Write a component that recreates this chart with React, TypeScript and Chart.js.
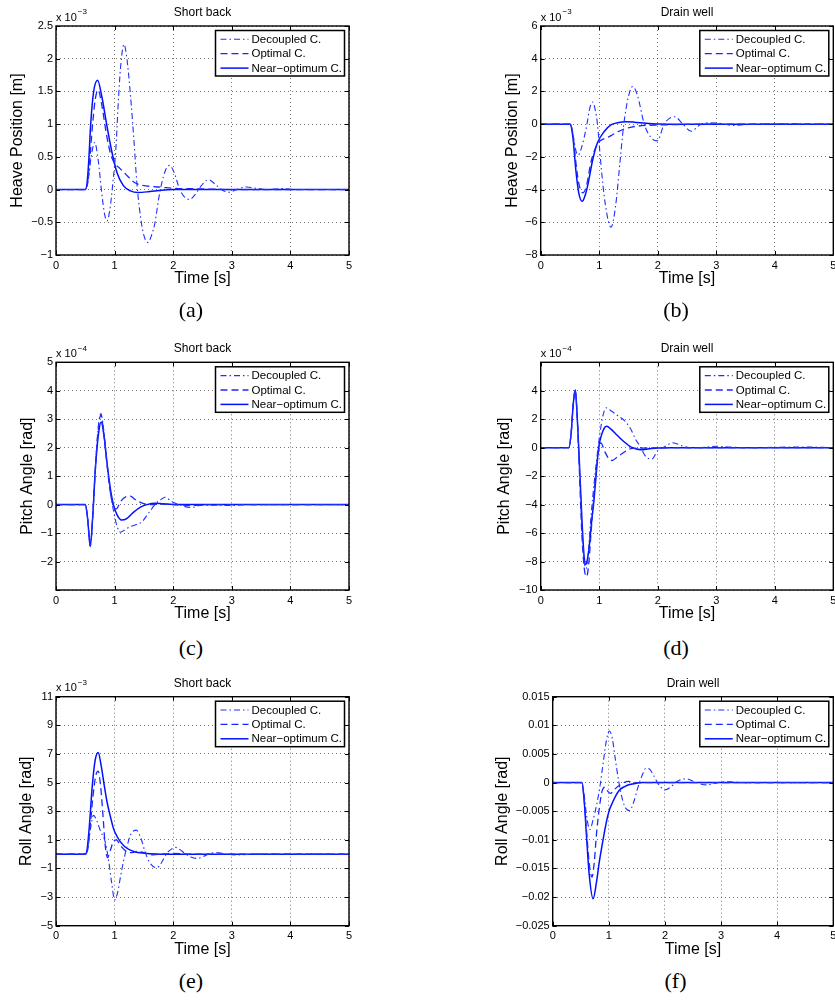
import React, { useEffect, useRef } from "react";
import { Chart, registerables } from "chart.js";

Chart.register(...registerables);
Chart.defaults.font.family = "'Liberation Sans', Arial, Helvetica, sans-serif";
Chart.defaults.color = "#000";

type Pt = [number, number];

// ---------- data ----------
const timeTicks = [0, 1, 2, 3, 4, 5];
const seriesNames = ["Decoupled C.", "Optimal C.", "Near\u2212optimum C."];

// (a) Heave position, short back  [x 1e-3 m]
const heaveShortDecoupled: Pt[] = [[0,0],[0.5,0],[0.55,0.15],[0.6,0.5],[0.66,0.72],[0.72,0.45],[0.78,-0.05],[0.83,-0.38],[0.87,-0.48],[0.92,-0.3],[0.97,0.1],[1.02,0.6],[1.07,1.45],[1.11,1.95],[1.16,2.22],[1.21,2.0],[1.27,1.45],[1.33,0.75],[1.38,0.1],[1.44,-0.4],[1.5,-0.7],[1.57,-0.81],[1.63,-0.7],[1.69,-0.5],[1.75,-0.15],[1.8,0.08],[1.87,0.3],[1.94,0.37],[2.02,0.25],[2.1,0.03],[2.18,-0.1],[2.28,-0.15],[2.38,-0.07],[2.48,0.06],[2.6,0.15],[2.72,0.08],[2.84,-0.01],[2.96,-0.04],[3.08,0],[3.25,0.04],[3.42,0.02],[3.6,0],[3.85,0.015],[4.1,0],[5,0]];
const heaveShortOptimal: Pt[] = [[0,0],[0.5,0],[0.54,0.1],[0.58,0.5],[0.62,0.95],[0.67,1.38],[0.72,1.52],[0.78,1.3],[0.86,0.85],[0.93,0.55],[1.0,0.4],[1.07,0.34],[1.15,0.27],[1.25,0.18],[1.32,0.12],[1.44,0.07],[1.6,0.05],[1.8,0.035],[2.0,0.02],[2.5,0.01],[3,0],[5,0]];
const heaveShortNearOpt: Pt[] = [[0,0],[0.5,0],[0.53,0.1],[0.56,0.45],[0.59,0.97],[0.64,1.48],[0.71,1.67],[0.78,1.43],[0.87,0.97],[0.955,0.57],[1.04,0.26],[1.15,0.06],[1.27,-0.02],[1.4,-0.045],[1.6,-0.03],[1.8,-0.01],[2.0,0],[5,0]];

// (b) Heave position, drain well  [x 1e-3 m]
const heaveDrainDecoupled: Pt[] = [[0,0],[0.51,0],[0.55,-0.6],[0.6,-1.6],[0.64,-1.9],[0.7,-1.4],[0.78,-0.2],[0.84,1.0],[0.89,1.35],[0.93,0.9],[0.97,0],[1.03,-2.5],[1.1,-4.8],[1.2,-6.3],[1.28,-5.0],[1.35,-2.5],[1.42,0],[1.5,1.7],[1.57,2.3],[1.65,1.8],[1.77,0],[1.88,-0.8],[1.99,-1.02],[2.11,0],[2.2,0.35],[2.29,0.45],[2.43,0],[2.57,-0.43],[2.74,0],[2.9,0.08],[3.05,0.05],[3.3,-0.08],[3.5,-0.03],[4.0,0.02],[5,0]];
const heaveDrainOptimal: Pt[] = [[0,0],[0.51,0],[0.55,-0.6],[0.6,-2.3],[0.65,-3.6],[0.72,-4.2],[0.78,-3.8],[0.86,-2.3],[0.97,-1.2],[1.05,-0.95],[1.11,-0.88],[1.2,-0.7],[1.3,-0.5],[1.43,-0.29],[1.55,-0.18],[1.66,-0.12],[1.8,-0.08],[2.0,-0.05],[2.5,-0.02],[3,0],[5,0]];
const heaveDrainNearOpt: Pt[] = [[0,0],[0.5,0],[0.55,-0.8],[0.6,-2.8],[0.65,-4.2],[0.71,-4.72],[0.76,-4.35],[0.8,-3.8],[0.89,-2.16],[0.97,-1.14],[1.09,-0.43],[1.2,-0.04],[1.31,0.08],[1.45,0.15],[1.6,0.12],[1.8,0.05],[2.0,0.01],[2.3,0],[5,0]];

// (c) Pitch angle, short back  [x 1e-4 rad]
const pitchShortDecoupled: Pt[] = [[0,0],[0.5,0],[0.54,-0.5],[0.585,-1.45],[0.63,-0.3],[0.67,1.25],[0.72,2.7],[0.765,3.2],[0.81,2.7],[0.87,1.5],[0.93,0.4],[0.98,-0.2],[1.04,-0.75],[1.1,-0.97],[1.18,-0.88],[1.27,-0.77],[1.37,-0.7],[1.47,-0.6],[1.56,-0.35],[1.64,-0.13],[1.72,0.08],[1.78,0.16],[1.86,0.26],[1.98,0.1],[2.1,0],[2.2,-0.07],[2.32,-0.1],[2.45,-0.03],[2.7,-0.02],[3.0,-0.03],[3.3,0],[5,0]];
const pitchShortOptimal: Pt[] = [[0,0],[0.5,0],[0.54,-0.5],[0.585,-1.45],[0.63,-0.3],[0.67,1.2],[0.72,2.6],[0.765,3.15],[0.81,2.6],[0.87,1.4],[0.93,0.4],[0.98,-0.05],[1.03,-0.15],[1.1,0.1],[1.2,0.28],[1.27,0.3],[1.35,0.18],[1.45,0.07],[1.6,0],[1.8,0.02],[2.0,0],[2.3,-0.03],[2.6,0],[5,0]];
const pitchShortNearOpt: Pt[] = [[0,0],[0.5,0],[0.54,-0.5],[0.585,-1.47],[0.63,-0.3],[0.67,1.2],[0.72,2.4],[0.77,2.9],[0.82,2.4],[0.88,1.3],[0.94,0.4],[0.98,0],[1.04,-0.35],[1.12,-0.54],[1.2,-0.5],[1.32,-0.27],[1.45,-0.08],[1.55,0],[1.7,0.05],[1.9,0.02],[2.1,0],[5,0]];

// (d) Pitch angle, drain well  [x 1e-4 rad]
const pitchDrainDecoupled: Pt[] = [[0,0],[0.48,0],[0.52,1.0],[0.555,3.0],[0.59,4.05],[0.62,2.5],[0.66,-1.2],[0.7,-5.2],[0.74,-7.8],[0.775,-8.5],[0.81,-7.5],[0.86,-4.8],[0.92,-2.2],[0.98,0],[1.03,1.5],[1.08,2.5],[1.12,2.8],[1.2,2.6],[1.3,2.3],[1.43,1.9],[1.54,1.3],[1.62,0.6],[1.69,0.15],[1.8,-0.65],[1.9,-0.8],[2.0,-0.2],[2.11,0.05],[2.26,0.35],[2.4,0.15],[2.55,0],[2.8,0.02],[3.0,0.1],[3.2,0.05],[3.5,0],[4.5,0.05],[5,0]];
const pitchDrainOptimal: Pt[] = [[0,0],[0.48,0],[0.52,1.0],[0.555,3.0],[0.59,4.05],[0.62,2.5],[0.66,-1.5],[0.7,-5.8],[0.745,-8.5],[0.785,-9.05],[0.82,-8.2],[0.86,-6.0],[0.91,-3.3],[0.96,-1.2],[1.0,0],[1.03,0.35],[1.07,0],[1.11,-0.4],[1.16,-0.75],[1.22,-0.9],[1.31,-0.65],[1.43,-0.3],[1.54,-0.07],[1.7,-0.03],[1.9,-0.02],[2.2,0],[5,0]];
const pitchDrainNearOpt: Pt[] = [[0,0],[0.48,0],[0.52,1.0],[0.555,3.0],[0.59,4.05],[0.62,2.5],[0.66,-0.9],[0.71,-5.5],[0.745,-7.8],[0.77,-8.2],[0.8,-7.8],[0.83,-6.9],[0.87,-5.2],[0.91,-3.7],[0.95,-1.8],[0.99,0],[1.04,0.9],[1.09,1.4],[1.13,1.5],[1.2,1.3],[1.31,0.86],[1.43,0.4],[1.54,0.05],[1.62,-0.08],[1.71,-0.14],[1.85,-0.08],[2.0,-0.02],[2.2,0],[5,0]];

// (e) Roll angle, short back  [x 1e-3 rad]
const rollShortDecoupled: Pt[] = [[0,0],[0.5,0],[0.54,0.3],[0.59,1.8],[0.64,2.72],[0.7,2.3],[0.76,1.6],[0.84,0.86],[0.9,-0.5],[0.95,-2.0],[1.0,-3.2],[1.05,-2.7],[1.1,-1.6],[1.15,-0.53],[1.21,0.5],[1.27,1.33],[1.37,1.68],[1.45,1.1],[1.52,0.16],[1.6,-0.6],[1.72,-0.95],[1.8,-0.6],[1.89,0.05],[1.97,0.35],[2.04,0.47],[2.12,0.3],[2.2,0.05],[2.3,-0.2],[2.4,-0.3],[2.5,-0.2],[2.6,0],[2.7,0.1],[2.78,0.1],[2.9,0],[3.1,-0.05],[3.4,0],[5,0]];
const rollShortOptimal: Pt[] = [[0,0],[0.5,0],[0.54,0.3],[0.58,1.8],[0.63,4.0],[0.68,5.5],[0.72,5.8],[0.76,4.8],[0.8,2.8],[0.84,0.6],[0.88,-0.25],[0.93,0.3],[0.98,0.9],[1.03,1.0],[1.1,0.6],[1.2,0.2],[1.3,0.1],[1.4,0.2],[1.5,0.1],[1.65,-0.05],[1.8,0],[2.0,0.05],[2.3,0],[5,0]];
const rollShortNearOpt: Pt[] = [[0,0],[0.5,0],[0.53,0.3],[0.57,2.0],[0.62,4.8],[0.67,6.6],[0.72,7.1],[0.77,6.2],[0.82,4.9],[0.87,3.66],[0.93,2.6],[0.98,1.8],[1.04,1.25],[1.1,0.86],[1.18,0.5],[1.27,0.28],[1.36,0.15],[1.44,0.09],[1.6,0.03],[1.8,0],[5,0]];

// (f) Roll angle, drain well  [rad]
const rollDrainDecoupled: Pt[] = [[0,0],[0.52,0],[0.56,-0.002],[0.6,-0.0055],[0.66,-0.0082],[0.72,-0.0065],[0.78,-0.004],[0.84,-0.0008],[0.9,0.0035],[0.96,0.0075],[1.01,0.009],[1.06,0.0078],[1.12,0.0038],[1.18,0],[1.25,-0.0032],[1.31,-0.0046],[1.37,-0.0049],[1.44,-0.0035],[1.52,-0.0008],[1.6,0.0014],[1.66,0.0025],[1.72,0.0024],[1.8,0.0012],[1.9,-0.0005],[2.0,-0.0013],[2.1,-0.0008],[2.2,0.0001],[2.3,0.00055],[2.38,0.00065],[2.5,0.00025],[2.62,-0.0002],[2.75,-0.0004],[2.88,-0.00015],[3.0,0.0001],[3.15,0.00015],[3.35,0],[5,0]];
const rollDrainOptimal: Pt[] = [[0,0],[0.52,0],[0.56,-0.003],[0.6,-0.008],[0.65,-0.014],[0.7,-0.0165],[0.74,-0.014],[0.78,-0.009],[0.83,-0.0045],[0.88,-0.0015],[0.93,-0.0008],[0.98,-0.0015],[1.03,-0.0019],[1.1,-0.0012],[1.2,-0.0004],[1.35,0.0002],[1.5,0],[5,0]];
const rollDrainNearOpt: Pt[] = [[0,0],[0.52,0],[0.56,-0.003],[0.6,-0.009],[0.65,-0.016],[0.72,-0.0203],[0.78,-0.0174],[0.83,-0.0139],[0.89,-0.0104],[0.95,-0.0072],[1.01,-0.0048],[1.07,-0.0034],[1.13,-0.0022],[1.19,-0.0013],[1.28,-0.0007],[1.37,-0.00035],[1.5,-0.0001],[1.6,0],[5,0]];

// ---------- styles ----------
const lineColors = ["#1f2fff", "#1a28ff", "#0010ff"];
const lineWidths = [1.1, 1.3, 1.5];
const lineDashes: number[][] = [[6, 3, 1.5, 3], [7, 4], []];

interface PanelSpec {
  title: string;
  yLabel: string;
  exponent: string | null;
  yMin: number;
  yMax: number;
  yStep: number;
  hidden: number[];
  series: Pt[][];
  caption: string;
  canvas: { x: number; y: number; w: number; h: number };
  area: { L: number; R: number; T: number; B: number };
  yTitleX: number;
  capX: number;
  capY: number;
}

const leftCol = { x: 0, w: 417 };
const rightCol = { x: 417, w: 418 };
const rows = [
  { y: 0, h: 300, T: 26, B: 255, capY: 312 },
  { y: 330, h: 300, T: 362.3, B: 590, capY: 650 },
  { y: 660, h: 300, T: 696.7, B: 925.7, capY: 983 },
];

const panels: PanelSpec[] = [
  {
    title: "Short back", yLabel: "Heave Position [m]", exponent: "\u22123",
    yMin: -1, yMax: 2.5, yStep: 0.5, hidden: [],
    series: [heaveShortDecoupled, heaveShortOptimal, heaveShortNearOpt], caption: "(a)",
    canvas: { x: leftCol.x, y: rows[0].y, w: leftCol.w, h: rows[0].h },
    area: { L: 56, R: 349, T: rows[0].T, B: rows[0].B }, yTitleX: 17.8, capX: 191, capY: rows[0].capY,
  },
  {
    title: "Drain well", yLabel: "Heave Position [m]", exponent: "\u22123",
    yMin: -8, yMax: 6, yStep: 2, hidden: [],
    series: [heaveDrainDecoupled, heaveDrainOptimal, heaveDrainNearOpt], caption: "(b)",
    canvas: { x: rightCol.x, y: rows[0].y, w: rightCol.w, h: rows[0].h },
    area: { L: 540.7, R: 833.3, T: rows[0].T, B: rows[0].B }, yTitleX: 512.5, capX: 676, capY: rows[0].capY,
  },
  {
    title: "Short back", yLabel: "Pitch Angle [rad]", exponent: "\u22124",
    yMin: -3, yMax: 5, yStep: 1, hidden: [-3],
    series: [pitchShortDecoupled, pitchShortOptimal, pitchShortNearOpt], caption: "(c)",
    canvas: { x: leftCol.x, y: rows[1].y, w: leftCol.w, h: rows[1].h },
    area: { L: 56, R: 349, T: rows[1].T, B: rows[1].B }, yTitleX: 27.5, capX: 191, capY: rows[1].capY,
  },
  {
    title: "Drain well", yLabel: "Pitch Angle [rad]", exponent: "\u22124",
    yMin: -10, yMax: 6, yStep: 2, hidden: [6],
    series: [pitchDrainDecoupled, pitchDrainOptimal, pitchDrainNearOpt], caption: "(d)",
    canvas: { x: rightCol.x, y: rows[1].y, w: rightCol.w, h: rows[1].h },
    area: { L: 540.7, R: 833.3, T: rows[1].T, B: rows[1].B }, yTitleX: 505, capX: 676, capY: rows[1].capY,
  },
  {
    title: "Short back", yLabel: "Roll Angle [rad]", exponent: "\u22123",
    yMin: -5, yMax: 11, yStep: 2, hidden: [],
    series: [rollShortDecoupled, rollShortOptimal, rollShortNearOpt], caption: "(e)",
    canvas: { x: leftCol.x, y: rows[2].y, w: leftCol.w, h: rows[2].h },
    area: { L: 56, R: 349, T: rows[2].T, B: rows[2].B }, yTitleX: 27, capX: 191, capY: rows[2].capY,
  },
  {
    title: "Drain well", yLabel: "Roll Angle [rad]", exponent: null,
    yMin: -0.025, yMax: 0.015, yStep: 0.005, hidden: [],
    series: [rollDrainDecoupled, rollDrainOptimal, rollDrainNearOpt], caption: "(f)",
    canvas: { x: rightCol.x, y: rows[2].y, w: rightCol.w, h: rows[2].h },
    area: { L: 552.7, R: 833.3, T: rows[2].T, B: rows[2].B }, yTitleX: 502.5, capX: 675.5, capY: rows[2].capY,
  },
];

const fmt = (v: number) => {
  const s = parseFloat(v.toFixed(4)).toString();
  return s.replace("-", "\u2212");
};

function makeDecor(spec: PanelSpec) {
  return {
    id: "decor",
    afterDatasetsDraw(chart: any) {
      const { ctx, chartArea: a, scales } = chart;
      const xs = scales.x;
      const ys = scales.y;
      ctx.save();
      // inward tick marks
      ctx.strokeStyle = "#000";
      ctx.lineWidth = 1;
      ctx.beginPath();
      xs.ticks.forEach((t: any) => {
        const px = Math.round(xs.getPixelForValue(t.value)) + 0.5;
        ctx.moveTo(px, a.bottom);
        ctx.lineTo(px, a.bottom - 4);
        ctx.moveTo(px, a.top);
        ctx.lineTo(px, a.top + 4);
      });
      ys.ticks.forEach((t: any) => {
        const py = Math.round(ys.getPixelForValue(t.value)) + 0.5;
        ctx.moveTo(a.left, py);
        ctx.lineTo(a.left + 4, py);
        ctx.moveTo(a.right, py);
        ctx.lineTo(a.right - 4, py);
      });
      ctx.stroke();
      // axes box
      ctx.lineWidth = 1.4;
      ctx.strokeRect(a.left, a.top, a.right - a.left, a.bottom - a.top);

      // legend
      const w = 129, h = 45.5;
      const x0 = a.right - 4.5 - w;
      const y0 = a.top + 4.5;
      ctx.fillStyle = "#fff";
      ctx.fillRect(x0, y0, w, h);
      ctx.lineWidth = 1.5;
      ctx.strokeStyle = "#000";
      ctx.strokeRect(x0, y0, w, h);
      ctx.font = "11.5px 'Liberation Sans', Arial, sans-serif";
      ctx.textBaseline = "middle";
      ctx.textAlign = "left";
      chart.data.datasets.forEach((ds: any, i: number) => {
        const yy = y0 + 8.8 + i * 14.4;
        ctx.save();
        ctx.strokeStyle = ds.borderColor;
        ctx.lineWidth = ds.borderWidth;
        ctx.setLineDash(ds.borderDash || []);
        ctx.beginPath();
        ctx.moveTo(x0 + 5, yy);
        ctx.lineTo(x0 + 33, yy);
        ctx.stroke();
        ctx.restore();
        ctx.fillStyle = "#000";
        ctx.fillText(ds.label, x0 + 36, yy + 0.5);
      });
      ctx.restore();
    },
    afterDraw(chart: any) {
      const { ctx, chartArea: a } = chart;
      ctx.save();
      ctx.fillStyle = "#000";
      ctx.textBaseline = "middle";
      ctx.textAlign = "center";
      ctx.font = "12px 'Liberation Sans', Arial, sans-serif";
      ctx.fillText(spec.title, (a.left + a.right) / 2, a.top - 13.5);
      if (spec.exponent) {
        ctx.textAlign = "left";
        ctx.font = "11px 'Liberation Sans', Arial, sans-serif";
        const base = "x 10";
        ctx.fillText(base, a.left, a.top - 8.5);
        const bw = ctx.measureText(base).width;
        ctx.font = "8px 'Liberation Sans', Arial, sans-serif";
        ctx.fillText(spec.exponent, a.left + bw + 1, a.top - 14);
      }
      ctx.restore();
    },
  };
}

function Panel({ spec }: { spec: PanelSpec }) {
  const ref = useRef<HTMLCanvasElement | null>(null);
  useEffect(() => {
    if (!ref.current) return;
    const { canvas: c, area } = spec;
    const yAxisWidth = area.L - c.x;
    const xAxisHeight = c.y + c.h - area.B;
    const yTitlePad = spec.yTitleX - c.x - 9.6;
    const xTitlePad = c.h - 9.6 - (area.B + 23.5 - c.y);
    const chart = new Chart(ref.current, {
      type: "line",
      data: {
        datasets: spec.series.map((pts, i) => ({
          label: seriesNames[i],
          data: pts.map(([x, y]) => ({ x, y })),
          borderColor: lineColors[i],
          borderWidth: lineWidths[i],
          borderDash: lineDashes[i],
          pointRadius: 0,
          fill: false,
          cubicInterpolationMode: "monotone" as const,
        })),
      },
      options: {
        animation: false,
        responsive: false,
        events: [],
        layout: {
          padding: { left: 0, top: area.T - c.y, right: c.x + c.w - area.R, bottom: 0 },
        },
        plugins: { legend: { display: false }, title: { display: false }, tooltip: { enabled: false } },
        scales: {
          x: {
            type: "linear",
            min: timeTicks[0],
            max: timeTicks[timeTicks.length - 1],
            afterBuildTicks: (s: any) => {
              s.ticks = timeTicks.map((v) => ({ value: v }));
            },
            ticks: {
              font: { size: 11 },
              color: "#000",
              padding: 4,
              maxRotation: 0,
              autoSkip: false,
              callback: (v: any) => fmt(Number(v)),
            },
            grid: { color: "rgba(0,0,0,0.55)", lineWidth: 1, drawTicks: false },
            border: { display: false, dash: [1, 3] },
            title: {
              display: true,
              text: "Time [s]",
              font: { size: 16 },
              color: "#000",
              padding: { top: 0, bottom: xTitlePad },
            },
            afterFit: (s: any) => {
              s.height = xAxisHeight;
              s.paddingLeft = 0;
              s.paddingRight = 0;
            },
          },
          y: {
            type: "linear",
            min: spec.yMin,
            max: spec.yMax,
            ticks: {
              stepSize: spec.yStep,
              font: { size: 11 },
              color: "#000",
              padding: 3,
              autoSkip: false,
              callback: (v: any) => {
                const n = Number(v);
                if (spec.hidden.some((hv) => Math.abs(hv - n) < 1e-9)) return "";
                return fmt(n);
              },
            },
            grid: { color: "rgba(0,0,0,0.55)", lineWidth: 1, drawTicks: false },
            border: { display: false, dash: [1, 3] },
            title: {
              display: true,
              text: spec.yLabel,
              font: { size: 16 },
              color: "#000",
              padding: { top: yTitlePad, bottom: 0 },
            },
            afterFit: (s: any) => {
              s.width = yAxisWidth;
              s.paddingTop = 0;
              s.paddingBottom = 0;
            },
          },
        },
      },
      plugins: [makeDecor(spec)],
    });
    return () => chart.destroy();
  }, [spec]);

  const c = spec.canvas;
  return (
    <>
      <canvas
        ref={ref}
        width={c.w}
        height={c.h}
        style={{ position: "absolute", left: c.x, top: c.y, width: c.w, height: c.h }}
      />
      <div
        style={{
          position: "absolute",
          left: spec.capX - 30,
          top: spec.capY - 12.9,
          width: 60,
          textAlign: "center",
          fontFamily: "'Liberation Serif', 'Times New Roman', serif",
          fontSize: 22,
          lineHeight: "22px",
          color: "#000",
        }}
      >
        {spec.caption}
      </div>
    </>
  );
}

export default function App() {
  return (
    <div
      style={{
        position: "absolute",
        left: 0,
        top: 0,
        width: 835,
        height: 1001,
        background: "#fff",
        overflow: "hidden",
      }}
    >
      {panels.map((p, i) => (
        <Panel key={i} spec={p} />
      ))}
    </div>
  );
}
